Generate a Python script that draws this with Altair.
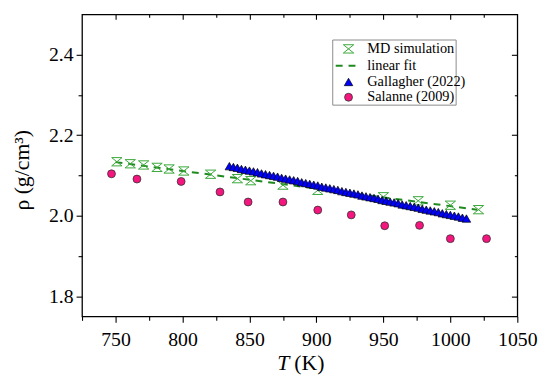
import altair as alt
import pandas as pd

# ---- data ----
md_T = [751, 761, 771, 781, 790, 801, 821, 841, 851, 875, 901, 950, 976, 1000, 1021]
md_rho = [2.134, 2.129, 2.126, 2.120, 2.116, 2.111, 2.103, 2.092, 2.087, 2.076, 2.063,
          2.047, 2.037, 2.026, 2.015]

fit_T = [750, 1020]
fit_rho = [2.133, 2.015]

gal_T = [835, 838, 841, 844, 847, 850, 853, 856, 859, 862, 865, 868, 871, 874, 877,
         880, 883, 886, 889, 892, 895, 898, 901, 904, 907, 910, 913, 916, 919, 922,
         925, 928, 931, 934, 937, 940, 943, 946, 949, 952, 955, 958, 961, 964, 967,
         970, 973, 976, 979, 982, 985, 988, 991, 994, 997, 1000, 1003, 1006, 1009, 1012]
gal_rho = [2.123, 2.121, 2.119, 2.116, 2.114, 2.112, 2.110, 2.108, 2.105, 2.103,
           2.101, 2.099, 2.097, 2.094, 2.092, 2.090, 2.088, 2.086, 2.083, 2.081,
           2.079, 2.077, 2.075, 2.072, 2.070, 2.068, 2.066, 2.064, 2.061, 2.059,
           2.057, 2.055, 2.053, 2.050, 2.048, 2.046, 2.044, 2.042, 2.039, 2.037,
           2.035, 2.033, 2.031, 2.028, 2.026, 2.024, 2.022, 2.020, 2.017, 2.015,
           2.013, 2.011, 2.009, 2.006, 2.004, 2.002, 2.000, 1.998, 1.995, 1.993]

sal_T = [747, 766, 799, 828, 849, 875, 901, 926, 951, 977, 1000, 1027]
sal_rho = [2.104, 2.091, 2.085, 2.059, 2.034, 2.034, 2.014, 2.002, 1.975, 1.976, 1.943, 1.943]

x_major = [750, 800, 850, 900, 950, 1000, 1050]
x_minor = [725, 775, 825, 875, 925, 975, 1025]
x_top_major = [750, 800, 850, 900, 950, 1000]
y_major = [1.8, 2.0, 2.2, 2.4]
y_minor = [1.9, 2.1, 2.3]

legend_labels = ["MD simulation", "linear fit", "Gallagher (2022)", "Salanne (2009)"]

FONT = "Liberation Serif"
GREEN = "#3aa83a"
DGREEN = "#1f8a1f"
BLUE = "#0000ff"
PINK = "#f5157f"
HOURGLASS = "M-1,-0.8L1,-0.8L-1,0.8L1,0.8Z"

md = pd.DataFrame({"T": md_T, "rho": md_rho})
fit = pd.DataFrame({"T": fit_T, "rho": fit_rho})
gal = pd.DataFrame({"T": gal_T, "rho": gal_rho})
sal = pd.DataFrame({"T": sal_T, "rho": sal_rho})

xs = alt.Scale(domain=[725, 1050], nice=False, zero=False)
ys = alt.Scale(domain=[1.75, 2.5], nice=False, zero=False)

common = dict(title=None, grid=False, domain=False, tickColor="black", tickWidth=1.1,
              labelFont=FONT, labelFontSize=20, labelColor="black", labelFontWeight="normal",
              labelFlush=False, labelOverlap=False)

ax_x_bottom_major = alt.Axis(orient="bottom", values=x_major, tickSize=6, labelPadding=8,
                             format="d", **common)
ax_x_bottom_minor = alt.Axis(orient="bottom", values=x_minor, tickSize=4, labels=False, **common)
ax_x_top_major = alt.Axis(orient="top", values=x_top_major, tickSize=5, offset=-5,
                          labels=False, **common)
ax_x_top_minor = alt.Axis(orient="top", values=x_minor[1:], tickSize=3, offset=-3,
                          labels=False, **common)

ax_y_left_major = alt.Axis(orient="left", values=y_major, tickSize=6, labelPadding=3,
                           format=".1f", **common)
ax_y_left_minor = alt.Axis(orient="left", values=y_minor, tickSize=4, labels=False, **common)
ax_y_right_major = alt.Axis(orient="right", values=y_major, tickSize=6, offset=-6,
                            labels=False, **common)
ax_y_right_minor = alt.Axis(orient="right", values=y_minor, tickSize=3, offset=-3,
                            labels=False, **common)

fit_layer = alt.Chart(fit).mark_line(color=DGREEN, strokeWidth=2, strokeDash=[7, 6]).encode(
    x=alt.X("T:Q", scale=xs, axis=ax_x_bottom_major),
    y=alt.Y("rho:Q", scale=ys, axis=ax_y_left_major),
)

md_layer = alt.Chart(md).mark_point(shape=HOURGLASS, size=110, stroke=GREEN, strokeWidth=1,
                                    filled=False, opacity=1).encode(
    x=alt.X("T:Q", scale=xs, axis=ax_x_bottom_minor),
    y=alt.Y("rho:Q", scale=ys, axis=ax_y_left_minor),
)

gal_layer = alt.Chart(gal).mark_point(shape="triangle-up", size=75, filled=True, fill=BLUE,
                                      stroke="black", strokeWidth=0.7, opacity=1).encode(
    x=alt.X("T:Q", scale=xs, axis=ax_x_top_major),
    y=alt.Y("rho:Q", scale=ys, axis=ax_y_right_major),
)

sal_layer = alt.Chart(sal).mark_point(shape="circle", size=64, filled=True, fill=PINK,
                                      stroke="#333333", strokeWidth=0.8, opacity=1).encode(
    x=alt.X("T:Q", scale=xs, axis=ax_x_top_minor),
    y=alt.Y("rho:Q", scale=ys, axis=ax_y_right_minor),
)

one = pd.DataFrame({"a": [0]})

# legend (positions in view pixels)
LX0, LY0, LX1, LY1 = 254, 26, 379, 92
SX = 270
TX = 289
ROWS = [35, 52, 68.5, 84]

legend_box = alt.Chart(one).mark_rect(fill="white", stroke="#8a8a8a", strokeWidth=1).encode(
    x=alt.value(LX0), x2=alt.value(LX1), y=alt.value(LY0), y2=alt.value(LY1))

leg_md = alt.Chart(one).mark_point(shape=HOURGLASS, size=110, stroke=GREEN, strokeWidth=1,
                                   filled=False, opacity=1).encode(
    x=alt.value(SX), y=alt.value(ROWS[0]))
leg_fit = alt.Chart(one).mark_rule(color=DGREEN, strokeWidth=2, strokeDash=[7, 6]).encode(
    x=alt.value(SX - 13), x2=alt.value(SX + 7), y=alt.value(ROWS[1]))
leg_gal = alt.Chart(one).mark_point(shape="triangle-up", size=75, filled=True, fill=BLUE,
                                    stroke="black", strokeWidth=0.7, opacity=1).encode(
    x=alt.value(SX), y=alt.value(ROWS[2]))
leg_sal = alt.Chart(one).mark_point(shape="circle", size=64, filled=True, fill=PINK,
                                    stroke="#333333", strokeWidth=0.8, opacity=1).encode(
    x=alt.value(SX), y=alt.value(ROWS[3]))

leg_text = [
    alt.Chart(one).mark_text(text=lab, font=FONT, fontSize=14.5, align="left",
                             baseline="middle", color="black", fontWeight="normal").encode(
        x=alt.value(TX), y=alt.value(ROWS[i]))
    for i, lab in enumerate(legend_labels)
]

# axis titles
x_title_T = alt.Chart(one).mark_text(text="T", font=FONT, fontSize=22, fontStyle="italic",
                                     align="right", baseline="middle", color="black").encode(
    x=alt.value(210), y=alt.value(353))
x_title_K = alt.Chart(one).mark_text(text="(K)", font=FONT, fontSize=22, align="left",
                                     baseline="middle", color="black").encode(
    x=alt.value(215), y=alt.value(353))
y_title = alt.Chart(one).mark_text(text="ρ (g/cm³)", font=FONT, fontSize=22, angle=270,
                                   align="center", baseline="middle", color="black").encode(
    x=alt.value(-61), y=alt.value(158))

chart = alt.layer(
    fit_layer, md_layer, gal_layer, sal_layer,
    legend_box, leg_md, leg_fit, leg_gal, leg_sal, *leg_text,
    x_title_T, x_title_K, y_title,
).resolve_axis(x="independent", y="independent").resolve_scale(x="shared", y="shared").properties(
    width=441, height=306,
    autosize=alt.AutoSizeParams(type="none"),
    padding={"left": 75, "top": 4, "right": 25, "bottom": 60},
    background="white",
).configure_view(stroke="black", strokeWidth=1.3)

chart.save("out.html", embed_options={"renderer": "svg", "actions": False})
